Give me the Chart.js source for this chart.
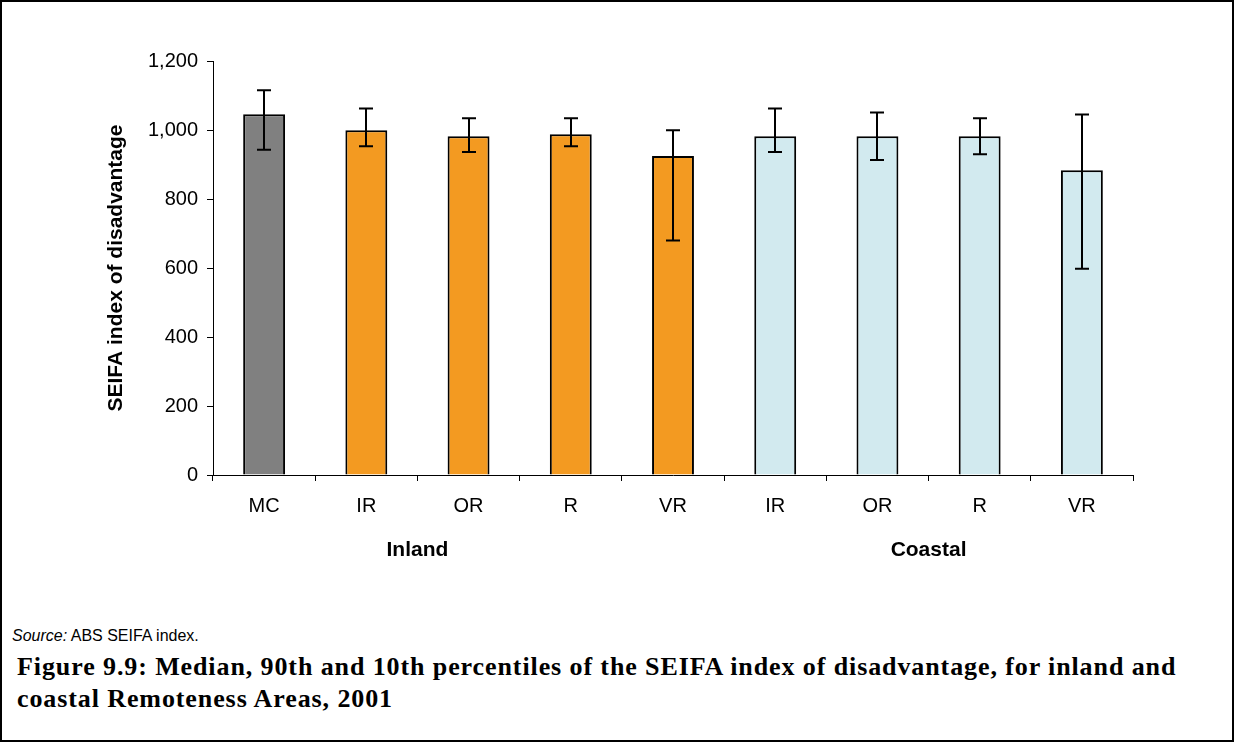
<!DOCTYPE html>
<html>
<head>
<meta charset="utf-8">
<script src="https://cdn.jsdelivr.net/npm/chart.js@4"></script>
<style>
    html, body { margin: 0; padding: 0; background: #fff; }
    #frame {
        position: relative;
        width: 1234px;
        height: 742px;
        box-sizing: border-box;
        border: 2px solid #000;
        overflow: hidden;
    }
    #chartBox {
        position: absolute;
        left: -2px;
        top: -2px;
        width: 1234px;
        height: 600px;
    }
    #source {
        position: absolute;
        left: 10px;
        top: 625px;
        font-family: "Liberation Sans", Arial, sans-serif;
        font-size: 16px;
        color: #000;
    }
    #caption {
        position: absolute;
        left: 15px;
        top: 649px;
        font-family: "Liberation Serif", "Times New Roman", serif;
        font-weight: bold;
        font-size: 26px;
        letter-spacing: 0.9px;
        line-height: 32px;
        white-space: nowrap;
        color: #000;
    }
</style>
</head>
<body>
<div id="frame">
    <div id="chartBox"><canvas id="seifaChart"></canvas></div>
    <div id="source"><i>Source:</i> ABS SEIFA index.</div>
    <div id="caption">Figure 9.9: Median, 90th and 10th percentiles of the SEIFA index of disadvantage, for inland and<br>coastal Remoteness Areas, 2001</div>
</div>

<script>
// Chart data
const categories = ['MC', 'IR', 'OR', 'R', 'VR', 'IR', 'OR', 'R', 'VR'];
const medianValues = [1046, 999, 982, 988, 925, 982, 982, 982, 883];
const p90Values = [1115, 1062, 1034, 1034, 999, 1062, 1051, 1034, 1045];
const p10Values = [943, 953, 936, 953, 680, 936, 913, 930, 598];
const groupLabels = ['Inland', 'Coastal'];
// each group label sits between these two category indexes
const groupLabelAt = [[1, 2], [6, 7]];
const yTicks = [0, 200, 400, 600, 800, 1000, 1200];

const barColors = categories.map((c, i) => {
    if (i === 0) return '#808080';
    if (i <= 4) return '#F39A21';
    return '#D2EAEF';
});

const FONT = '"Liberation Sans", Arial, sans-serif';

// Draw the 90th / 10th percentile whiskers
const errorBars = {
    id: 'errorBars',
    afterDatasetsDraw(chart) {
        const ctx = chart.ctx;
        const yScale = chart.scales.y;
        const meta = chart.getDatasetMeta(0);
        ctx.save();
        ctx.strokeStyle = '#000';
        ctx.lineWidth = 2;
        meta.data.forEach((bar, i) => {
            const x = Math.round(bar.x);
            const yHi = yScale.getPixelForValue(p90Values[i]);
            const yLo = yScale.getPixelForValue(p10Values[i]);
            ctx.beginPath();
            ctx.moveTo(x, yHi);
            ctx.lineTo(x, yLo);
            ctx.moveTo(x - 7, yHi);
            ctx.lineTo(x + 7, yHi);
            ctx.moveTo(x - 7, yLo);
            ctx.lineTo(x + 7, yLo);
            ctx.stroke();
        });
        ctx.restore();
    }
};

// Inland / Coastal labels under the category labels
const groupTitles = {
    id: 'groupTitles',
    afterDraw(chart) {
        const ctx = chart.ctx;
        const xScale = chart.scales.x;
        ctx.save();
        ctx.font = 'bold 21px ' + FONT;
        ctx.fillStyle = '#000';
        ctx.textAlign = 'center';
        ctx.textBaseline = 'middle';
        groupLabels.forEach((label, i) => {
            const [a, b] = groupLabelAt[i];
            const x = (xScale.getPixelForValue(a) + xScale.getPixelForValue(b)) / 2;
            ctx.fillText(label, x, xScale.top + 75);
        });
        ctx.restore();
    }
};

const ctx = document.getElementById('seifaChart').getContext('2d');
new Chart(ctx, {
    type: 'bar',
    data: {
        labels: categories,
        datasets: [{
            data: medianValues,
            backgroundColor: barColors,
            borderColor: '#000',
            borderWidth: 2,
            barPercentage: 0.41,
            categoryPercentage: 1
        }]
    },
    options: {
        responsive: true,
        maintainAspectRatio: false,
        animation: false,
        layout: {
            padding: { left: 100, right: 101, top: 61, bottom: 0 }
        },
        plugins: {
            legend: { display: false },
            tooltip: { enabled: false }
        },
        scales: {
            y: {
                min: 0,
                max: 1200,
                afterBuildTicks(scale) {
                    scale.ticks = yTicks.map(v => ({ value: v }));
                },
                afterFit(scale) {
                    scale.width = 113;
                },
                ticks: {
                    color: '#000',
                    padding: 9,
                    font: { family: FONT, size: 20 },
                    callback: v => v.toLocaleString('en-US')
                },
                grid: {
                    drawOnChartArea: false,
                    drawTicks: true,
                    tickLength: 6,
                    color: '#000'
                },
                border: { color: '#000', width: 1 },
                title: {
                    display: true,
                    text: 'SEIFA index of disadvantage',
                    color: '#000',
                    padding: { top: 4, bottom: 0 },
                    font: { family: FONT, size: 21, weight: 'bold' }
                }
            },
            x: {
                afterFit(scale) {
                    scale.height = 125;
                },
                ticks: {
                    color: '#000',
                    padding: 13,
                    maxRotation: 0,
                    font: { family: FONT, size: 20 }
                },
                grid: {
                    offset: true,
                    drawOnChartArea: false,
                    drawTicks: true,
                    tickLength: 6,
                    color: '#000'
                },
                border: { color: '#000', width: 1 }
            }
        }
    },
    plugins: [errorBars, groupTitles]
});
</script>
</body>
</html>
